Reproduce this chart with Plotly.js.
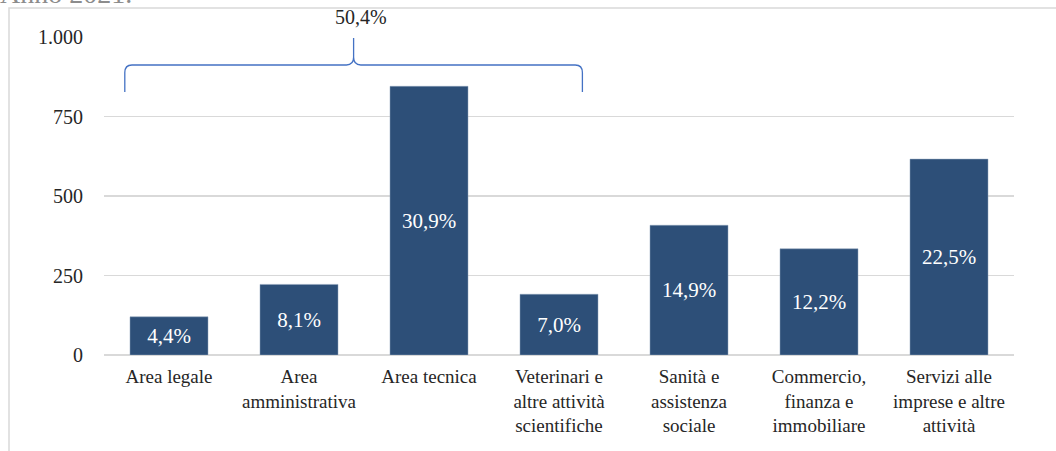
<!DOCTYPE html>
<html>
<head>
<meta charset="utf-8">
<script src="https://cdn.plot.ly/plotly-3.0.1.min.js"></script>
<style>
  html, body { margin: 0; padding: 0; background: #ffffff; }
  #chart { width: 1056px; height: 451px; }
</style>
</head>
<body>
<div id="chart"></div>
<script>
// ---- data ----
var categories = [
  "Area legale",
  "Area<br>amministrativa",
  "Area tecnica",
  "Veterinari e<br>altre attività<br>scientifiche",
  "Sanità e<br>assistenza<br>sociale",
  "Commercio,<br>finanza e<br>immobiliare",
  "Servizi alle<br>imprese e altre<br>attività"
];
var values = [120, 222, 845, 191, 408, 334, 616];
var shareLabels = ["4,4%", "8,1%", "30,9%", "7,0%", "14,9%", "12,2%", "22,5%"];
var groupLabel = "50,4%";
var yTicks = [0, 250, 500, 750, 1000];
var titleText = "Anno 2021.";

var positions = categories.map(function (c, i) { return i; });

var serif = "Liberation Serif";
var barColor = "#2D4F78";

// brace spanning the first four categories (in axis units)
var bL = -0.34, bR = 3.18, bM = (bL + bR) / 2;
var yEnd = 827, yTop = 912, ySpike = 997;
var dx = 0.055, dy = 24;
var bracePath =
  "M " + bL + "," + yEnd +
  " L " + bL + "," + (yTop - dy) +
  " Q " + bL + "," + yTop + " " + (bL + dx) + "," + yTop +
  " L " + (bM - dx) + "," + yTop +
  " Q " + bM + "," + yTop + " " + bM + "," + (yTop + dy) +
  " L " + bM + "," + ySpike +
  " M " + bM + "," + (yTop + dy) +
  " Q " + bM + "," + yTop + " " + (bM + dx) + "," + yTop +
  " L " + (bR - dx) + "," + yTop +
  " Q " + bR + "," + yTop + " " + bR + "," + (yTop - dy) +
  " L " + bR + "," + yEnd;

var trace = {
  type: "bar",
  x: positions,
  y: values,
  width: 0.6,
  marker: { color: barColor, line: { color: "#8ea2ba", width: 0.5 } },
  text: shareLabels,
  textposition: "inside",
  insidetextanchor: "middle",
  constraintext: "none",
  textfont: { family: serif, size: 21, color: "#ffffff" },
  hoverinfo: "none",
  cliponaxis: false
};

var layout = {
  width: 1056,
  height: 451,
  margin: { l: 104, r: 42, t: 37, b: 96, pad: 0 },
  paper_bgcolor: "#ffffff",
  plot_bgcolor: "#ffffff",
  separators: ",.",
  showlegend: false,
  font: { family: serif, color: "#262626", size: 19 },
  xaxis: {
    type: "linear",
    range: [-0.5, 6.5],
    tickvals: positions,
    ticktext: categories,
    showgrid: false,
    zeroline: false,
    showline: false,
    ticks: "",
    ticklabelstandoff: 8,
    tickfont: { family: serif, size: 19, color: "#262626" },
    fixedrange: true
  },
  yaxis: {
    range: [0, 1000],
    tickvals: yTicks,
    tickformat: ",d",
    showgrid: true,
    gridcolor: "#d9d9d9",
    gridwidth: 1.5,
    zeroline: true,
    zerolinecolor: "#d9d9d9",
    zerolinewidth: 1.5,
    showline: false,
    ticks: "",
    ticklabelstandoff: 20,
    tickfont: { family: serif, size: 20, color: "#262626" },
    fixedrange: true
  },
  shapes: [
    {
      type: "rect",
      xref: "paper", yref: "paper",
      x0: -0.1044, x1: 1.2, y0: -0.5, y1: 1.0912,
      line: { color: "#d9d9d9", width: 1.5 },
      fillcolor: "rgba(0,0,0,0)",
      layer: "below"
    },
    {
      type: "path",
      xref: "x", yref: "y",
      path: bracePath,
      line: { color: "#4472C4", width: 1.3 },
      layer: "above"
    }
  ],
  annotations: [
    {
      text: groupLabel,
      xref: "x", yref: "paper",
      x: bM + 0.06, y: 1.062,
      xanchor: "center", yanchor: "middle",
      showarrow: false,
      font: { family: serif, size: 20, color: "#262626" }
    },
    {
      text: titleText,
      xref: "paper", yref: "paper",
      x: -0.116, y: 1.083,
      xanchor: "left", yanchor: "bottom",
      showarrow: false,
      font: { family: serif, size: 28, color: "#8c8c8c" }
    }
  ]
};

Plotly.newPlot("chart", [trace], layout, { displayModeBar: false, staticPlot: true });
</script>
</body>
</html>
